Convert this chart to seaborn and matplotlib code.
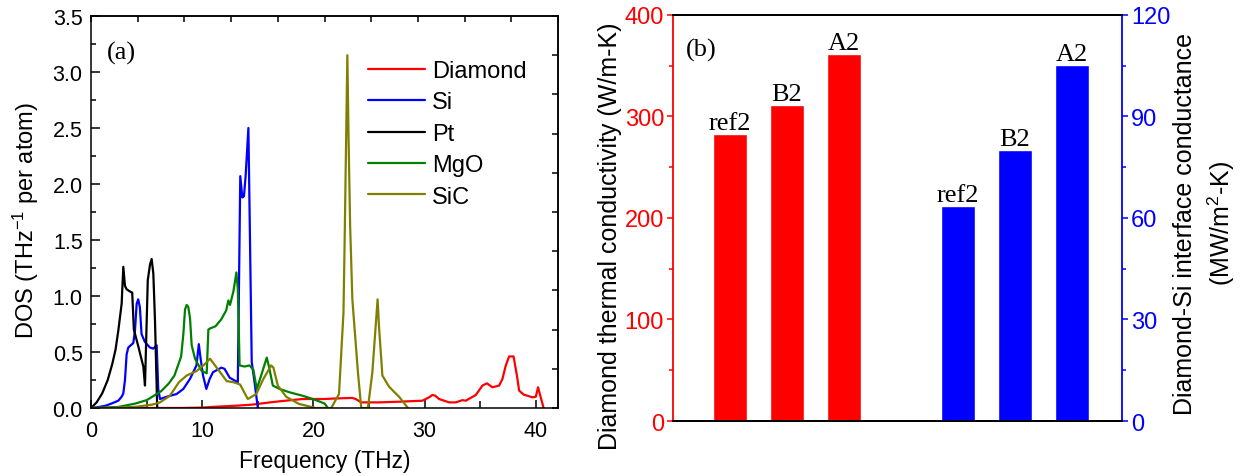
import numpy as np
import pandas as pd
import matplotlib
matplotlib.use("Agg")
import matplotlib.pyplot as plt
from matplotlib.ticker import MultipleLocator
import seaborn as sns

# ---------------- phonon density of states (THz, THz^-1 per atom) ----------------
diamond_f = [0, 8, 10, 11, 13, 14.5, 15.7, 16.1, 17, 19, 21, 22, 23.5, 23.8, 24.3, 25.9,
             27.7, 29.8, 30.4, 30.7, 30.95, 31.3, 32.2, 32.8, 33.4, 33.7, 34.6, 35.2, 35.6,
             36.1, 36.7, 37.0, 37.3, 37.6, 38.0, 38.3, 38.5, 38.9, 39.7, 40.0, 40.2, 40.4, 40.7]
diamond_d = [0, 0, 0.003, 0.01, 0.02, 0.03, 0.045, 0.05, 0.06, 0.08, 0.08, 0.085, 0.09, 0.08,
             0.05, 0.05, 0.056, 0.065, 0.095, 0.116, 0.11, 0.08, 0.05, 0.05, 0.07, 0.065, 0.116,
             0.2, 0.22, 0.185, 0.2, 0.26, 0.38, 0.46, 0.46, 0.29, 0.155, 0.12, 0.095, 0.1, 0.185,
             0.11, 0.0]

si_f = [0, 0.5, 1.3, 1.85, 2.45, 2.75, 2.9, 3.05, 3.2, 3.35, 3.8, 3.95, 4.1, 4.24, 4.39, 4.54,
        4.84, 5.29, 5.6, 5.9, 6.04, 6.2, 6.8, 7.7, 8.3, 8.9, 9.48, 9.69, 9.84, 10.07, 10.37,
        10.67, 10.97, 11.72, 12.0, 12.47, 13.2, 13.42, 13.6, 13.75, 13.9, 14.15, 14.45, 14.65, 15.0]
si_d = [0, 0.005, 0.02, 0.04, 0.065, 0.1, 0.13, 0.25, 0.48, 0.54, 0.58, 0.69, 0.93, 0.97, 0.9,
        0.66, 0.59, 0.54, 0.53, 0.56, 0.17, 0.08, 0.1, 0.125, 0.17, 0.26, 0.38, 0.57, 0.45, 0.29,
        0.17, 0.26, 0.32, 0.36, 0.35, 0.27, 0.23, 2.07, 1.88, 1.89, 2.07, 2.5, 0.41, 0.27, 0.0]

pt_f = [0, 0.5, 1.0, 1.5, 1.9, 2.2, 2.45, 2.75, 2.9, 3.05, 3.2, 3.5, 3.7, 3.85, 4.25, 4.7,
        4.85, 5.1, 5.3, 5.45, 5.6, 5.75, 5.95]
pt_d = [0, 0.05, 0.13, 0.25, 0.39, 0.52, 0.69, 0.93, 1.26, 1.09, 1.06, 1.04, 1.03, 0.70, 0.55,
        0.37, 0.20, 1.14, 1.28, 1.33, 1.20, 0.78, 0.0]

mgo_f = [0, 1.0, 2.5, 4.0, 5.0, 5.5, 6.3, 7.0, 7.5, 8.1, 8.3, 8.45, 8.6, 8.75, 8.9, 9.05, 9.35,
         9.95, 10.4, 10.55, 10.7, 11.2, 11.7, 12.15, 12.35, 12.5, 12.8, 13.07, 13.2, 13.36,
         13.8, 14.25, 14.6, 14.9, 15.3, 15.8, 16.0, 16.35, 16.95, 17.85, 19.0, 19.95, 21.0, 21.3]
mgo_d = [0, 0.002, 0.01, 0.04, 0.07, 0.1, 0.15, 0.22, 0.29, 0.46, 0.66, 0.88, 0.92, 0.9, 0.8,
         0.56, 0.44, 0.33, 0.31, 0.7, 0.71, 0.73, 0.79, 0.87, 0.96, 0.92, 1.04, 1.21, 1.06, 0.38,
         0.37, 0.38, 0.34, 0.17, 0.29, 0.45, 0.37, 0.2, 0.17, 0.14, 0.11, 0.08, 0.04, 0.0]

sic_f = [0, 2, 4, 5.5, 6.2, 7.1, 7.9, 8.6, 9.5, 10.1, 10.7, 11.3, 12.2, 12.8, 13.4, 14.1, 14.86,
         15.5, 16.2, 16.4, 16.8, 17.55, 18.7, 20.2, 21.3, 21.6, 22.3, 22.7, 22.8, 23.05, 23.15,
         23.3, 23.5, 24.0, 24.3, 24.9, 25.3, 25.77, 25.9, 26.2, 26.8, 27.7, 28.5]
sic_d = [0, 0.002, 0.01, 0.03, 0.05, 0.11, 0.23, 0.29, 0.33, 0.38, 0.44, 0.36, 0.24, 0.23, 0.21,
         0.08, 0.125, 0.26, 0.38, 0.36, 0.2, 0.1, 0.036, 0.0, 0.0, 0.0, 0.125, 0.85, 1.45, 3.15,
         2.46, 1.63, 0.97, 0.32, 0.0, 0.0, 0.32, 0.97, 0.72, 0.29, 0.19, 0.1, 0.0]

dos_names = ["Diamond", "Si", "Pt", "MgO", "SiC"]
dos_colors = ["#ff0000", "#0000ff", "#000000", "#008000", "#808000"]

# ---------------- thermal conductivity and interface conductance ----------------
samples = ["ref2", "B2", "A2"]
kappa = [283, 311, 362]            # W/m-K
conductance = [63.6, 80.2, 105.3]  # MW/m^2-K
kappa_slots = [0, 1, 2]
conductance_slots = [4, 5, 6]

sns.set_theme(style="ticks", rc={
    "axes.edgecolor": "black", "axes.linewidth": 1.1,
    "xtick.color": "black", "ytick.color": "black",
    "text.color": "black", "axes.labelcolor": "black",
})
plt.rcParams["font.family"] = ["Liberation Sans", "DejaVu Sans"]
plt.rcParams["mathtext.fontset"] = "custom"
plt.rcParams["mathtext.rm"] = "Liberation Sans"
plt.rcParams["mathtext.it"] = "Liberation Sans"

fig = plt.figure(figsize=(12.44, 4.77), dpi=100)

# ================= (a) DOS =================
ax1 = fig.add_axes([0.0732, 0.1426, 0.3754, 0.8218])
curves = [(diamond_f, diamond_d), (si_f, si_d), (pt_f, pt_d), (mgo_f, mgo_d), (sic_f, sic_d)]
for (f, d), name, col in zip(curves, dos_names, dos_colors):
    sns.lineplot(x=f, y=d, color=col, lw=1.6, label=name, sort=False,
                 estimator=None, ax=ax1)

ax1.set_xlim(0, 42)
ax1.set_ylim(0, 3.5)
ax1.xaxis.set_major_locator(MultipleLocator(10))
ax1.xaxis.set_minor_locator(MultipleLocator(5))
ax1.yaxis.set_minor_locator(MultipleLocator(0.25))
ax1.set_yticks(np.arange(0, 3.51, 0.5))
ax1.set_yticklabels([f"{v:.1f}" for v in np.arange(0, 3.51, 0.5)])
ax1.tick_params(which="both", direction="in", width=1.1, labelsize=15.5)
ax1.tick_params(axis="y", which="major", length=6.5, pad=6)
ax1.tick_params(axis="y", which="minor", length=3.6)
ax1.tick_params(axis="x", which="major", length=6, pad=9)
ax1.tick_params(axis="x", which="minor", length=5)

top = ax1.secondary_xaxis("top")
top.set_xticks(np.linspace(0, 42, 11))
top.tick_params(direction="in", length=4.5, width=1.1, labeltop=False)
right = ax1.secondary_yaxis("right")
right.set_yticks(np.linspace(0, 3.5, 11))
right.tick_params(direction="in", length=4.5, width=1.1, labelright=False)

ax1.set_xlabel("Frequency (THz)", fontsize=16.5, va="center")
ax1.xaxis.set_label_coords(0.5, -0.133)
ax1.set_ylabel("DOS (THz$^{\\mathregular{-1}}$ per atom)", fontsize=17, va="center")
ax1.yaxis.set_label_coords(-0.14, 0.48)
ax1.text(0.034, 0.908, "(a)", transform=ax1.transAxes, ha="left", va="center",
         fontsize=19, family="Liberation Serif")
ax1.legend(loc="upper left", bbox_to_anchor=(0.593, 0.888), frameon=False, fontsize=17,
           handlelength=2.4, handletextpad=0.3, labelspacing=0.4, borderpad=0,
           borderaxespad=0)

# ================= (b) bars =================
ax2 = fig.add_axes([0.541, 0.1153, 0.361, 0.8512])
ax3 = ax2.twinx()
df_k = pd.DataFrame({"slot": kappa_slots, "value": kappa})
df_g = pd.DataFrame({"slot": conductance_slots, "value": conductance})
order = list(range(7))
sns.barplot(data=df_k, x="slot", y="value", order=order, color="#ff0000",
            saturation=1, width=0.6, ax=ax2)
sns.barplot(data=df_g, x="slot", y="value", order=order, color="#0000ff",
            saturation=1, width=0.6, ax=ax3)

for ax in (ax2, ax3):
    ax.set_xlim(-1.0, 6.88)
    ax.set_xticks([])
    ax.set_xlabel("")
ax2.set_ylim(0, 400)
ax3.set_ylim(0, 120)
ax2.yaxis.set_major_locator(MultipleLocator(100))
ax2.yaxis.set_minor_locator(MultipleLocator(50))
ax3.yaxis.set_major_locator(MultipleLocator(30))
ax3.yaxis.set_minor_locator(MultipleLocator(15))

ax2.tick_params(axis="y", which="both", colors="#ff0000", direction="out", width=1.1,
                labelsize=17, pad=2)
ax2.tick_params(axis="y", which="major", length=4.5)
ax2.tick_params(axis="y", which="minor", length=3)
ax3.tick_params(axis="y", which="both", colors="#0000ff", direction="out", width=1.1,
                labelsize=17, pad=2)
ax3.tick_params(axis="y", which="major", length=4.5)
ax3.tick_params(axis="y", which="minor", length=3)

ax2.spines["left"].set_color("#ff0000")
ax2.spines["right"].set_visible(False)
ax3.spines["left"].set_visible(False)
ax3.spines["right"].set_color("#0000ff")
for ax in (ax2, ax3):
    for s in ax.spines.values():
        s.set_linewidth(1.3)

ax2.set_ylabel("Diamond thermal conductivity (W/m-K)", fontsize=18, va="center")
ax2.yaxis.set_label_coords(-0.14, 0.458)
ax3.set_ylabel("Diamond-Si interface conductance\n(MW/m$^{\\mathregular{2}}$-K)",
               fontsize=18, va="center", rotation=90, linespacing=1.35)
ax3.yaxis.set_label_coords(1.185, 0.488)

ax2.bar_label(ax2.containers[0], labels=samples, padding=0, fontsize=19,
              family="Liberation Serif")
ax3.bar_label(ax3.containers[0], labels=samples, padding=0, fontsize=19,
              family="Liberation Serif")
ax2.text(0.029, 0.916, "(b)", transform=ax2.transAxes, ha="left", va="center",
         fontsize=19, family="Liberation Serif")

fig.savefig("out.png", dpi=100)
